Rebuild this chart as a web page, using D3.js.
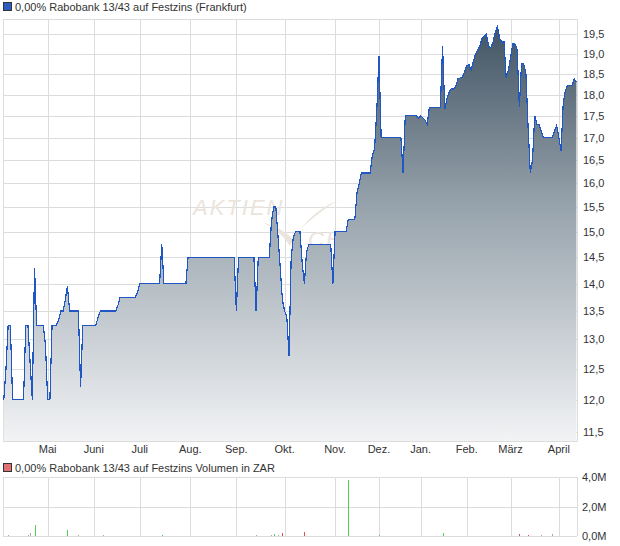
<!DOCTYPE html>
<html><head><meta charset="utf-8">
<script src="https://cdn.jsdelivr.net/npm/d3@7"></script>
<style>
body{margin:0;background:#fff}
text{font-family:"Liberation Sans",Arial,sans-serif;fill:#333}
</style>
</head><body>
<svg id="c" width="620" height="546"></svg>
<script>
// ---- data ----
const startDate = "2014-04-01", endDate = "2015-04-15";
const holidays = ["2014-04-18","2014-04-21","2014-05-01","2014-12-24","2014-12-25","2014-12-26","2014-12-31","2015-01-01","2015-04-03","2015-04-06"];
const prices = [
 12.0,12.5,13.25,13.25,12.0,12.0,12.0,12.0,12.0,12.0,
 13.25,13.25,12.6,12.0,14.3,13.25,13.25,13.25,13.25,12.9,
 12.0,12.0,13.25,13.25,13.25,13.35,13.5,13.5,13.7,13.95,
 13.5,13.5,13.5,13.5,13.5,12.2,13.25,13.25,13.25,13.25,
 13.25,13.25,13.25,13.4,13.5,13.5,13.5,13.5,13.5,13.5,
 13.5,13.5,13.6,13.75,13.75,13.75,13.75,13.75,13.75,13.75,
 13.75,13.85,14.0,14.0,14.0,14.0,14.0,14.0,14.0,14.0,
 14.0,14.0,14.75,14.0,14.0,14.0,14.0,14.0,14.0,14.0,
 14.0,14.0,14.0,14.0,14.5,14.5,14.5,14.5,14.5,14.5,
 14.5,14.5,14.5,14.5,14.5,14.5,14.5,14.5,14.5,14.5,
 14.5,14.5,14.5,14.5,14.5,14.5,13.5,14.5,14.5,14.5,
 14.5,14.5,14.5,14.5,14.5,13.5,14.5,14.5,14.5,14.5,
 14.5,14.5,15.2,15.5,15.5,14.9,14.3,13.7,13.5,13.4,
 12.72,14.5,14.9,15.0,15.0,15.0,14.4,14.0,14.6,14.75,
 14.75,14.75,14.75,14.75,14.75,14.75,14.75,14.75,14.75,14.75,
 14.0,15.0,15.0,15.0,15.0,15.0,15.0,15.25,15.25,15.25,
 15.25,15.8,16.0,16.22,16.22,16.22,16.22,16.22,16.6,16.75,
 17.6,18.95,17.0,17.0,17.0,17.0,17.0,17.0,17.0,17.0,
 17.0,17.0,16.22,17.5,17.5,17.5,17.5,17.5,17.5,17.45,
 17.5,17.45,17.4,17.3,17.7,17.7,17.7,17.7,17.7,17.7,
 19.2,17.65,17.9,18.05,18.15,18.12,18.2,18.38,18.4,18.42,
 18.55,18.7,18.73,18.6,18.8,19.0,19.1,19.2,19.4,19.45,
 19.5,19.2,19.15,19.3,19.55,19.7,19.4,19.3,19.3,18.4,
 18.6,18.9,19.25,19.25,19.1,17.7,18.75,18.75,18.5,17.2,
 16.22,16.5,17.5,17.3,17.3,17.15,17.0,17.0,17.0,17.0,
 17.0,17.15,17.28,17.0,16.7,17.8,18.1,18.22,18.22,18.22,
 18.38,18.3
];
const yTicks = [11.5,12.0,12.5,13.0,13.5,14.0,14.5,15.0,15.5,16.0,16.5,17.0,17.5,18.0,18.5,19.0,19.5];
const monthNames = ["Jan.","Feb.","März","April","Mai","Juni","Juli","Aug.","Sep.","Okt.","Nov.","Dez."];
const volDates = ["2014-04-03","2014-04-16","2014-04-17","2014-04-23","2014-05-15","2014-05-22","2014-06-06","2014-07-15","2014-09-12","2014-09-23","2014-09-24","2014-09-26","2014-09-30","2014-10-14","2014-11-11","2014-12-01","2015-01-16","2015-03-06","2015-03-12","2015-03-20","2015-03-27"];
const volValues = [0.02e6,0.08e6,0.18e6,0.75e6,0.42e6,0.05e6,0.02e6,0.03e6,0.03e6,0.04e6,0.14e6,0.1e6,0.2e6,0.3e6,3.82e6,0.03e6,0.23e6,0.16e6,0.09e6,0.08e6,0.13e6];
const volDir = ["flat","flat","flat","up","up","flat","flat","up","flat","flat","up","flat","down","down","up","up","up","down","down","flat","flat"];
const volTicks = [0, 2e6, 4e6];
const titleMain = "0,00% Rabobank 13/43 auf Festzins (Frankfurt)";
const titleVol = "0,00% Rabobank 13/43 auf Festzins Volumen in ZAR";

// ---- trading calendar ----
const fmt = d3.timeFormat("%Y-%m-%d"), parse = d3.timeParse("%Y-%m-%d");
const hol = new Set(holidays);
const days = d3.timeDay.range(parse(startDate), d3.timeDay.offset(parse(endDate), 1))
  .filter(d => d.getDay() !== 0 && d.getDay() !== 6 && !hol.has(fmt(d))).map(fmt);
const series = days.map((d, i) => ({d, v: prices[i]})).filter(p => p.v != null);

// ---- layout ----
const L = 3, R = 577, T = 19, B = 441;
const VT = 477, VB = 536;
const svg = d3.select("#c");
const x = d3.scalePoint().domain(days).range([3.8, 576.4]);
const y = d3.scaleLog().domain([11.36, 19.9]).range([B, T]);
const yv = d3.scaleLinear().domain([0, 4e6]).range([VB, VT]);
const monthStarts = days.filter((d, i) => i > 0 && d.slice(5, 7) !== days[i - 1].slice(5, 7));
const grid = "#dcdcdc";

// legends
function legend(yc, fill, txt) {
  svg.append("rect").attr("x", 3.5).attr("y", yc - 4.5).attr("width", 8).attr("height", 8)
    .attr("fill", fill).attr("stroke", "#333").attr("stroke-width", 1);
  svg.append("text").attr("x", 15).attr("y", yc + 4).attr("font-size", 11).text(txt);
}
legend(7, "#2b5cc0", titleMain);
legend(468, "#e07272", titleVol);

// main grid
const gm = svg.append("g").attr("shape-rendering", "crispEdges");
gm.selectAll(".hy").data(yTicks).join("line")
  .attr("x1", L).attr("x2", R).attr("y1", d => Math.round(y(d)) + 0.5).attr("y2", d => Math.round(y(d)) + 0.5)
  .attr("stroke", grid);
gm.selectAll(".vx").data(monthStarts).join("line")
  .attr("x1", d => Math.round(x(d)) + 0.5).attr("x2", d => Math.round(x(d)) + 0.5).attr("y1", T).attr("y2", B)
  .attr("stroke", grid);
gm.append("rect").attr("x", L + 0.5).attr("y", T + 0.5).attr("width", R - L).attr("height", B - T)
  .attr("fill", "none").attr("stroke", grid);

// watermark
const wm = svg.append("g").attr("fill", "#ece6e0");
wm.append("text").attr("x", 193).attr("y", 215).attr("font-size", 22).attr("font-style", "italic")
  .attr("letter-spacing", 2).style("fill", "#ebe4dd").text("AKTIEN");
wm.append("text").attr("x", 308).attr("y", 247).attr("font-size", 22).attr("font-style", "italic")
  .attr("letter-spacing", 2).style("fill", "#ebe4dd").text("CHECK");
wm.append("path").attr("d", "M262,222 Q280,230 290,246 Q305,215 338,200 Q305,222 292,238 Q282,228 262,222Z")
  .attr("fill", "#ebe4dd");

// area gradient
const defs = svg.append("defs");
const gr = defs.append("linearGradient").attr("id", "g1").attr("gradientUnits", "userSpaceOnUse")
  .attr("x1", 0).attr("x2", 0).attr("y1", T).attr("y2", B);
gr.append("stop").attr("offset", 0).attr("stop-color", "#3f5161");
gr.append("stop").attr("offset", 0.45).attr("stop-color", "#98a4ad");
gr.append("stop").attr("offset", 1).attr("stop-color", "#f2f3f5");

svg.append("path").datum(series)
  .attr("d", d3.area().x(p => x(p.d)).y0(B).y1(p => y(p.v)))
  .attr("fill", "url(#g1)");
svg.append("path").datum(series)
  .attr("d", d3.line().x(p => x(p.d)).y(p => y(p.v)))
  .attr("fill", "none").attr("stroke", "#1f58c4").attr("stroke-width", 1.2)
  .attr("shape-rendering", "crispEdges");

// y labels
const fmtNum = d => d.toFixed(1).replace(".", ",");
svg.selectAll(".yl").data(yTicks).join("text")
  .attr("x", 583).attr("y", d => y(d) + 4).attr("font-size", 11).text(fmtNum);
// x labels
svg.selectAll(".xl").data(monthStarts).join("text")
  .attr("x", d => x(d)).attr("y", 453).attr("text-anchor", "middle").attr("font-size", 11)
  .text(d => monthNames[+d.slice(5, 7) - 1]);

// volume panel
const gv = svg.append("g").attr("shape-rendering", "crispEdges");
gv.selectAll(".vh").data(volTicks).join("line")
  .attr("x1", L).attr("x2", R).attr("y1", d => Math.round(yv(d)) + 0.5).attr("y2", d => Math.round(yv(d)) + 0.5)
  .attr("stroke", grid);
gv.selectAll(".vv").data(monthStarts).join("line")
  .attr("x1", d => Math.round(x(d)) + 0.5).attr("x2", d => Math.round(x(d)) + 0.5).attr("y1", VT).attr("y2", VB)
  .attr("stroke", grid);
gv.append("line").attr("x1", L + 0.5).attr("x2", L + 0.5).attr("y1", VT).attr("y2", VB).attr("stroke", grid);
gv.append("line").attr("x1", R + 0.5).attr("x2", R + 0.5).attr("y1", VT).attr("y2", VB).attr("stroke", grid);
const volColor = {up: "#4fd14f", down: "#e0504f", flat: "#a8a8a8"};
gv.selectAll(".vb").data(volDates.map((d, i) => ({d, v: volValues[i], c: volDir[i]}))).join("rect")
  .attr("x", p => Math.round(x(p.d))).attr("width", 1)
  .attr("y", p => Math.min(Math.round(yv(p.v)), VB - 1)).attr("height", p => VB - Math.min(Math.round(yv(p.v)), VB - 1))
  .attr("fill", p => volColor[p.c]);
svg.selectAll(".vl").data(volTicks).join("text")
  .attr("x", 582).attr("y", d => yv(d) + 4).attr("font-size", 11)
  .text(d => (d / 1e6).toFixed(1).replace(".", ",") + "M");
</script>
</body></html>
